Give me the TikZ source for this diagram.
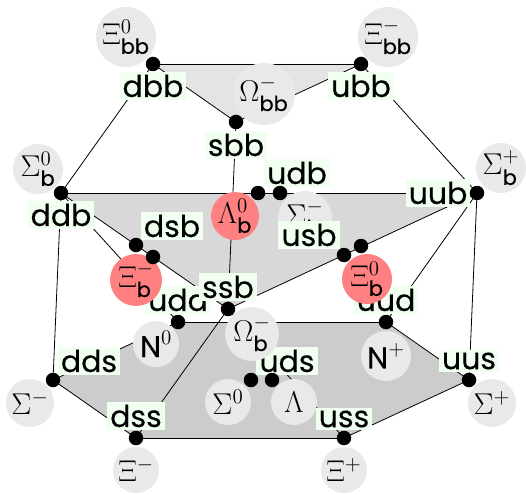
\documentclass[tikz,border=0pt]{standalone}
\usepackage{fontspec}
\usepackage{amsmath}
\newfontfamily\quarkfont[FakeBold=0.25]{Poppins}
\definecolor{bubblegrey}{RGB}{233,233,233}
\definecolor{bubblered}{RGB}{255,128,128}
\definecolor{labelgreen}{RGB}{240,255,240}
\definecolor{facetop}{RGB}{228,228,228}
\definecolor{facemid}{RGB}{216,216,216}
\definecolor{facelow}{RGB}{204,204,204}
\newcommand{\bq}[1]{\text{\quarkfont #1}}
\newcommand{\hadron}[1]{\scalebox{1.45}{$#1$}}

\begin{document}
\begin{tikzpicture}[x=1pt, y=-1pt,
    quark/.style={fill=labelgreen, inner xsep=3pt, inner ysep=3pt, font=\fontsize{30}{30}\selectfont\quarkfont},
    pt/.style={circle, fill=black, minimum size=14.5pt, inner sep=0pt},
    baryon/.style={circle, fill=bubblegrey, inner sep=0pt, font=\fontsize{20.74}{21}\selectfont},
    hot/.style={baryon, fill=bubblered},
    edge/.style={draw=black, line width=0.8pt}]
\useasboundingbox (0,0) rectangle (526,494);
% vertices
\coordinate (dbbp) at (153,64);
\coordinate (ubbp) at (361,64);
\coordinate (sbbp) at (236,122);
\coordinate (ddbp) at (61,193);
\coordinate (uubp) at (477,193);
\coordinate (ssbp) at (228,309);
\coordinate (uddp) at (178,322);
\coordinate (uudp) at (386,322);
\coordinate (ddsp) at (53,380);
\coordinate (uusp) at (469,380);
\coordinate (dssp) at (136,438);
\coordinate (ussp) at (344,438);
% faces
\fill[facetop] (dbbp) -- (ubbp) -- (sbbp) -- cycle;
\fill[facemid] (ddbp) -- (uubp) -- (ssbp) -- cycle;
\fill[facelow] (ddsp) -- (uddp) -- (uudp) -- (uusp) -- (ussp) -- (dssp) -- cycle;
% edges
\draw[edge] (dbbp) -- (ubbp);
\draw[edge] (dbbp) -- (sbbp);
\draw[edge] (ubbp) -- (sbbp);
\draw[edge] (dbbp) -- (ddbp);
\draw[edge] (ubbp) -- (uubp);
\draw[edge] (sbbp) -- (ssbp);
\draw[edge] (ddbp) -- (uubp);
\draw[edge] (ddbp) -- (ssbp);
\draw[edge] (uubp) -- (ssbp);
\draw[edge] (ddbp) -- (ddsp);
\draw[edge] (ddbp) -- (uddp);
\draw[edge] (uubp) -- (uudp);
\draw[edge] (uubp) -- (uusp);
\draw[edge] (ssbp) -- (dssp);
\draw[edge] (ssbp) -- (ussp);
\draw[edge] (ddsp) -- (uddp);
\draw[edge] (uddp) -- (uudp);
\draw[edge] (uudp) -- (uusp);
\draw[edge] (uusp) -- (ussp);
\draw[edge] (ussp) -- (dssp);
\draw[edge] (dssp) -- (ddsp);
% labels under the bubbles
\node[quark] (udd) at (178,300) {udd};
\node[quark] (uud) at (386,300) {uud};
\node[quark] (uds) at (287,361) {uds};
% bubbles
\node[baryon, minimum size=60pt] (xibb0) at (126,37) {\hadron{\Xi_{\bq{bb}}^0}};
\node[baryon, minimum size=60pt] (xibbm) at (388,37) {\hadron{\Xi_{\bq{bb}}^-}};
\node[baryon, minimum size=62pt] (ombb) at (264,94) {\hadron{\Omega_{\bq{bb}}^-}};
\node[baryon, minimum size=50pt] (sigb0) at (38,169) {\hadron{\Sigma_{\bq{b}}^0}};
\node[baryon, minimum size=50pt] (sigbp) at (501,168) {\hadron{\Sigma_{\bq{b}}^+}};
\node[baryon, minimum size=54pt] (sigbm) at (305,218) {\hadron{\Sigma_{\bq{b}}^-}};
\node[hot, minimum size=48pt] (lamb) at (235,216) {\hadron{\Lambda_{\bq{b}}^0}};
\node[hot, minimum size=52pt] (xibm) at (136,280) {\hadron{\Xi_{\bq{b}}^-}};
\node[hot, minimum size=50pt] (xib0) at (367,279) {\hadron{\Xi_{\bq{b}}^0}};
\node[baryon, minimum size=54pt] (omb) at (252,334) {\hadron{\Omega_{\bq{b}}^-}};
\node[baryon, minimum size=46pt] (n0) at (156,344) {\hadron{\bq{N}^0}};
\node[baryon, minimum size=50pt] (np) at (386,356) {\hadron{\bq{N}^+}};
\node[baryon, minimum size=46pt] (sig0) at (228,402) {\hadron{\Sigma^0}};
\node[baryon, minimum size=46pt] (lam) at (294,402) {\hadron{\Lambda}};
\node[baryon, minimum size=48pt] (sigm) at (30,403) {\hadron{\Sigma^-}};
\node[baryon, minimum size=48pt] (sigp) at (492,403) {\hadron{\Sigma^+}};
\node[baryon, minimum size=46pt] (xim) at (136,470) {\hadron{\Xi^-}};
\node[baryon, minimum size=46pt] (xip) at (344,470) {\hadron{\Xi^+}};
% labels
\node[quark] (dbb) at (153,86) {dbb};
\node[quark] (ubb) at (361,86) {ubb};
\node[quark] (sbb) at (236,145) {sbb};
\node[quark] (ddb) at (61,215) {ddb};
\node[quark] (dsb) at (172,226) {dsb};
\node[quark] (udb) at (297,173) {udb};
\node[quark] (uub) at (438,193) {uub};
\node[quark] (usb) at (309,235) {usb};
\node[quark] (ssb) at (228,287) {ssb};
\node[quark] (dds) at (89,361) {dds};
\node[quark] (uus) at (469,361) {uus};
\node[quark] (dss) at (136,416) {dss};
\node[quark] (uss) at (344,419) {uss};
% dots
\foreach \pos/\dotname in {(153,64)/a,(361,64)/b,(236,122)/c,(61,193)/d,(477,193)/e,
    (258,193)/f,(280,193)/g,(136,245)/h,(153,257)/i,(344,255)/j,(361,246)/k,(228,309)/l,
    (178,322)/m,(386,322)/n,(53,380)/o,(469,380)/p,(251,380)/q,(272,380)/r,(136,438)/s,(344,438)/t}
    \node[pt] (dot\dotname) at \pos {};
\end{tikzpicture}
\end{document}
